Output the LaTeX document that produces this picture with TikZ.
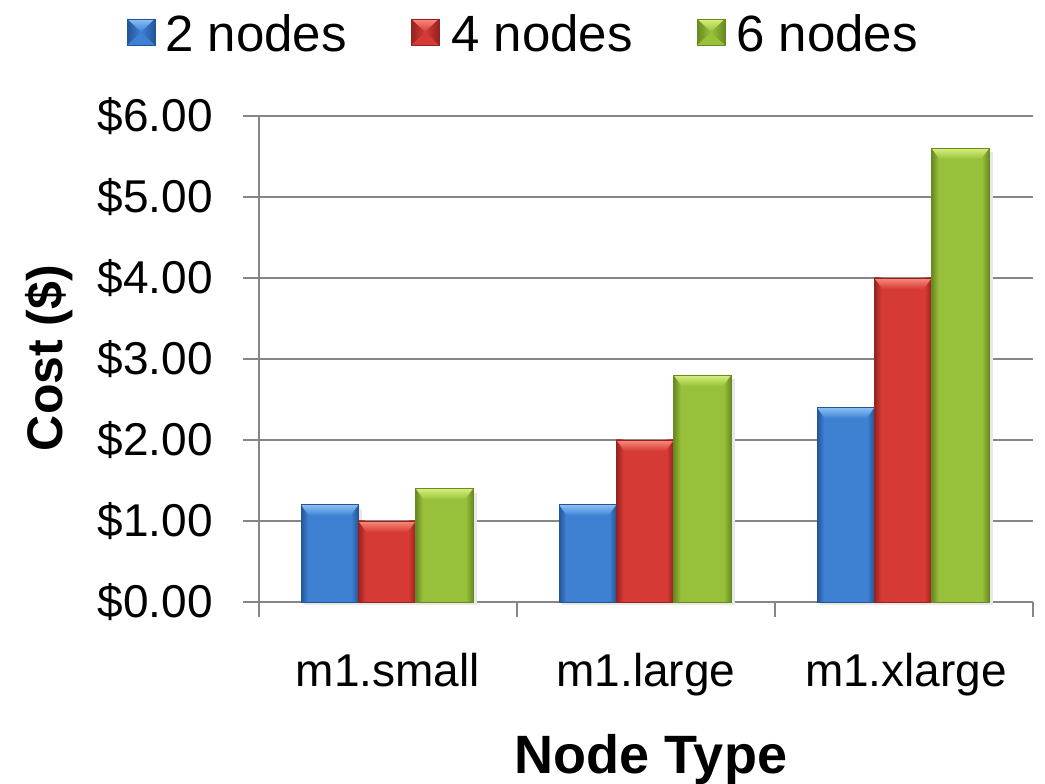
\documentclass[tikz,border=0pt]{standalone}
\usepackage{fontspec}
\setmainfont{Liberation Sans}
\definecolor{gridc}{RGB}{134,134,134}
\definecolor{bm}{RGB}{62,128,210}
\definecolor{bd}{RGB}{36,84,152}
\definecolor{bl}{RGB}{140,192,245}
\definecolor{rm}{RGB}{214,58,52}
\definecolor{rd}{RGB}{148,34,32}
\definecolor{rl}{RGB}{248,140,125}
\definecolor{gm}{RGB}{152,192,58}
\definecolor{gd}{RGB}{104,138,34}
\definecolor{gl}{RGB}{214,240,125}
\tikzset{
  gridline/.style={draw=gridc, line width=1.8pt},
  ticklab/.style={anchor=base east, inner sep=0pt, font=\fontsize{46}{50}\selectfont},
  catlab/.style={anchor=base, inner sep=0pt, font=\fontsize{46}{50}\selectfont},
  axtitle/.style={anchor=base, inner sep=0pt, font=\bfseries\fontsize{54}{58}\selectfont},
  legtext/.style={anchor=base west, inner sep=0pt, font=\fontsize{51}{55}\selectfont}
}
% bar: x0, x1, value, colour prefix
\newcommand\cbar[4]{%
  \pgfmathsetmacro\yt{182+81*#3}%
  \fill[black!9] (#1+3,179) rectangle (#2+4,\yt-4);
  \fill[#4m] (#1,182) rectangle (#2,\yt);
  \shade[left color=#4d, right color=#4m] (#1,182) rectangle (#1+7,\yt);
  \shade[left color=#4m, right color=#4d] (#2-7,182) rectangle (#2,\yt);
  \shade[top color=#4l, bottom color=#4m] (#1,\yt) -- (#2,\yt) -- (#2-8,\yt-11) -- (#1+8,\yt-11) -- cycle;
  \draw[#4d, line width=0.8pt] (#1,182) rectangle (#2,\yt);
}
% legend square: x0, colour prefix
\newcommand\lsq[2]{%
  \fill[#2m] (#1,739) rectangle (#1+28,765);
  \shade[top color=#2l, bottom color=#2m] (#1,765) -- (#1+28,765) -- (#1+14,752) -- cycle;
  \shade[left color=#2d, right color=#2m] (#1,739) -- (#1,765) -- (#1+14,752) -- cycle;
  \shade[left color=#2m, right color=#2d] (#1+28,739) -- (#1+28,765) -- (#1+14,752) -- cycle;
  \draw[#2d, line width=0.8pt] (#1,739) rectangle (#1+28,765);
}
\begin{document}
\begin{tikzpicture}[x=1pt,y=1pt]
\useasboundingbox (0,0) rectangle (1045,784);
\fill[white] (0,0) rectangle (1045,784);
% gridlines and axes
\foreach \k in {1,...,6} {
  \draw[gridline] (243,182+81*\k) -- (1033,182+81*\k);
}
\draw[gridline] (243,182) -- (1033,182);
\draw[gridline] (259,668) -- (259,167);
\foreach \xx in {517,775,1033} {
  \draw[gridline] (\xx,182) -- (\xx,167);
}
% tick labels
\foreach \k in {0,...,6} {
  \node[ticklab] (t\k) at (213,166+81*\k) {\$\k.00};
}
% bars
\cbar{301.0}{358.3}{1.2}{b}
\cbar{358.3}{415.7}{1.0}{r}
\cbar{415.7}{473.0}{1.4}{g}
\cbar{559.0}{616.3}{1.2}{b}
\cbar{616.3}{673.7}{2.0}{r}
\cbar{673.7}{731.0}{2.8}{g}
\cbar{817.0}{874.3}{2.4}{b}
\cbar{874.3}{931.7}{4.0}{r}
\cbar{931.7}{989.0}{5.6}{g}
% category labels
\node[catlab] (c1) at (388,97) {m1.small};
\node[catlab] (c2) at (646,97) {m1.large};
\node[catlab] (c3) at (906,97) {m1.xlarge};
% axis titles
\node[axtitle] (xt) at (651,10) {Node Type};
\node[axtitle, rotate=90, font=\bfseries\fontsize{50}{54}\selectfont] (yt) at (62,426) {Cost (\$)};
% legend
\lsq{127}{b}
\lsq{411}{r}
\lsq{697}{g}
\node[legtext] (l1) at (165,732) {2 nodes};
\node[legtext] (l2) at (451,732) {4 nodes};
\node[legtext] (l3) at (736,732) {6 nodes};
\end{tikzpicture}
\end{document}
